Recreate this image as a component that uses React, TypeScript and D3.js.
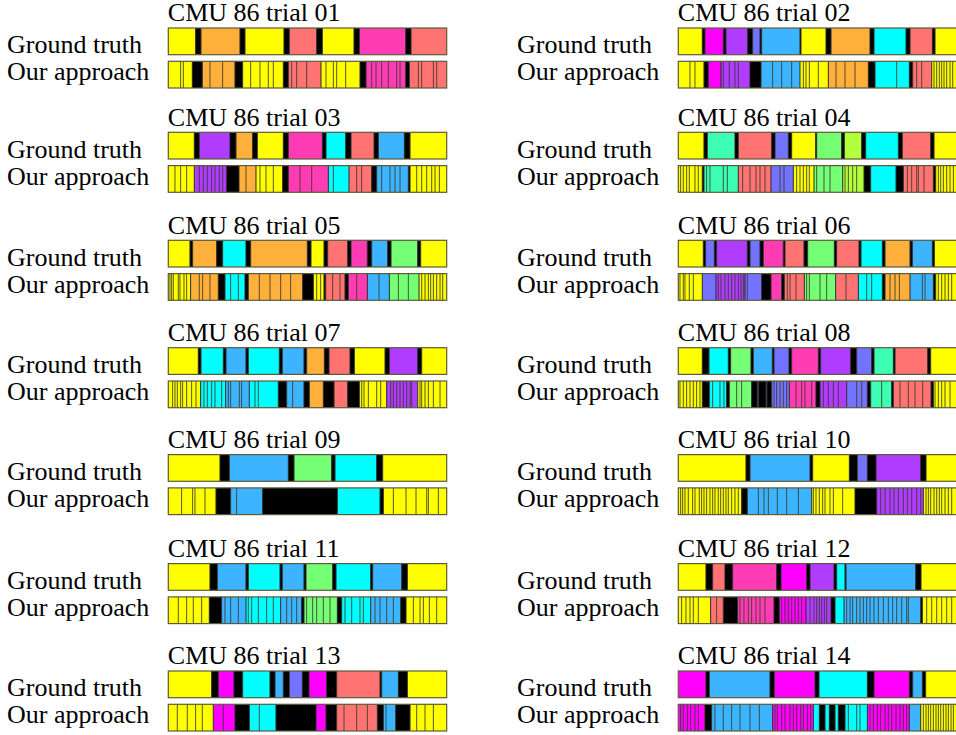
import React from "react";
import * as d3 from "d3";

// segment = [label code, end frame, internal cut frames]
type Seg = [string, number, number[]?];

const FRAME_START = 25;
const FRAME_END = 860;

const labelColors: Record<string, string> = {
  Y: "#ffff00",
  O: "#ffb03b",
  S: "#ff7373",
  P: "#ff3cb4",
  M: "#ff00ff",
  V: "#b03cff",
  B: "#7373ff",
  L: "#3cb4ff",
  C: "#00ffff",
  G: "#75ff75",
  T: "#3cffb4",
  E: "#b4ff3c",
  K: "#000000",
};

const trialNames = [
  "CMU 86 trial 01", "CMU 86 trial 02", "CMU 86 trial 03", "CMU 86 trial 04",
  "CMU 86 trial 05", "CMU 86 trial 06", "CMU 86 trial 07", "CMU 86 trial 08",
  "CMU 86 trial 09", "CMU 86 trial 10", "CMU 86 trial 11", "CMU 86 trial 12",
  "CMU 86 trial 13", "CMU 86 trial 14",
];

const groundTruth: Seg[][] = [
  // 01
  [["Y",107],["K",123],["O",240],["K",255],["Y",372],["K",388],["S",470],["K",487],["Y",582],["K",598],["P",737],["K",753],["S",860]],
  // 02
  [["Y",97],["K",105],["M",160],["K",168],["V",233],["K",248],["B",270],["K",275],["L",390],["K",393],["Y",468],["K",483],["O",600],["K",612],["C",708],["K",720],["S",787],["K",795],["Y",860]],
  // 03
  [["Y",103],["K",118],["V",210],["K",228],["O",278],["K",292],["Y",370],["K",385],["P",487],["K",498],["C",557],["K",573],["S",642],["K",655],["L",733],["K",750],["Y",860]],
  // 04
  [["Y",102],["K",112],["T",195],["K",205],["S",305],["K",315],["B",355],["K",365],["Y",437],["K",440],["G",515],["K",523],["E",575],["K",587],["C",685],["K",697],["S",782],["K",792],["Y",860]],
  // 05
  [["Y",90],["K",98],["O",170],["K",188],["C",258],["K",272],["O",442],["K",453],["Y",492],["K",503],["S",563],["K",573],["P",622],["K",635],["L",683],["K",693],["G",773],["K",782],["Y",860]],
  // 06
  [["Y",100],["K",107],["B",133],["K",140],["V",232],["K",240],["B",270],["K",280],["P",340],["K",345],["S",402],["K",413],["G",493],["K",500],["S",567],["K",573],["C",637],["K",645],["O",720],["K",727],["L",787],["K",793],["Y",860]],
  // 07
  [["Y",115],["K",123],["C",190],["K",198],["L",258],["K",265],["C",358],["K",367],["L",432],["K",440],["O",493],["K",507],["S",570],["K",583],["Y",675],["K",688],["V",773],["K",785],["Y",860]],
  // 08
  [["Y",97],["K",117],["C",175],["K",182],["G",243],["K",250],["L",307],["K",312],["B",357],["K",365],["P",445],["K",452],["V",542],["K",560],["B",605],["K",612],["T",670],["K",675],["S",773],["K",782],["Y",860]],
  // 09
  [["Y",180],["K",208],["L",385],["K",402],["G",515],["K",525],["C",650],["K",668],["Y",860]],
  // 10
  [["Y",228],["K",240],["L",420],["K",428],["Y",538],["K",562],["B",592],["K",618],["V",752],["K",768],["Y",860]],
  // 11
  [["Y",150],["K",172],["L",258],["K",265],["C",360],["K",367],["L",432],["K",438],["G",518],["K",528],["C",632],["K",638],["L",725],["K",742],["Y",860]],
  // 12
  [["Y",108],["K",128],["S",165],["K",188],["P",320],["K",333],["M",410],["K",420],["V",492],["K",500],["C",525],["K",528],["L",737],["K",753],["Y",860]],
  // 13
  [["Y",155],["K",175],["M",222],["K",248],["C",330],["K",345],["L",370],["K",388],["B",427],["K",447],["M",500],["K",530],["S",660],["K",665],["L",715],["K",742],["Y",860]],
  // 14
  [["M",108],["K",118],["L",300],["K",313],["M",435],["K",447],["C",592],["K",612],["M",718],["K",728],["L",757],["K",767],["Y",860]],
];

const ourApproach: Seg[][] = [
  // 01
  [["Y",97,[62,70]],["K",127],["O",225,[150,188]],["K",248],["Y",370,[272,300,325,340]],["K",385],["S",483,[395,410,440]],["Y",600,[498,520,530,557]],["K",618],["P",737,[635,648,665,685,710,720]],["K",748],["S",860,[775,785,820,830]]],
  // 02
  [["Y",102,[60,75]],["K",115],["M",153],["V",240,[160,178,195,205]],["K",273],["L",390,[308,335,365]],["Y",475,[400,408,418,445]],["O",595,[498,525,555]],["K",615],["C",718,[680]],["K",728],["S",785,[740,755]],["Y",860,[792,800,808,815,822,830,840,848]]],
  // 03
  [["Y",103,[45,62,80]],["V",200,[118,130,142,155,165,178,188]],["K",237],["O",288,[258]],["Y",368,[300,318,340]],["K",385],["P",505,[420,455]],["C",567,[520]],["S",635,[590,605]],["K",650],["L",745,[665,690,705,720]],["K",750],["Y",860,[770,785,800,815,825,838]]],
  // 04
  [["Y",97,[32,40,50,58,75,85]],["K",102],["T",205,[110,120,160,172]],["S",303,[218,240,258,270,285]],["B",370,[330,342]],["Y",432,[380,390,400,410,418]],["G",518,[440,462,480]],["E",582,[525,535,548,560]],["K",602],["C",678],["K",700],["S",790,[712,725,740,745,762]],["K",797],["Y",860,[805,812,820,830,840,850]]],
  // 05
  [["Y",92,[30,35,40,55,60,72,80]],["O",175,[118,128,150]],["K",195],["C",255,[212,235]],["K",265],["O",428,[298,330,362,392]],["K",460],["Y",492,[470,482]],["K",497],["S",555,[518,540]],["K",565],["P",622,[590]],["L",688,[657]],["G",777,[715,745]],["Y",860,[785,795,805,812,820,830,840,848]]],
  // 06
  [["Y",97,[30,40,45,58,70]],["B",138],["V",225,[145,153,165,175,185,195,205,213,220]],["B",275,[232]],["K",303],["P",335],["K",343],["S",403,[352,360,378]],["G",497,[410,418,450,470]],["S",565,[528]],["C",637,[590,605]],["K",645],["O",720,[660,675,688]],["L",790,[757,765]],["K",797],["Y",860,[805,815,825,835,845]]],
  // 07
  [["Y",122,[38,45,52,62,68,80,95,108]],["C",197,[132,142,155,165,185]],["L",268,[205,212,238,245]],["C",355,[285,295]],["K",380],["L",432,[398]],["K",448],["O",490],["K",522],["S",563],["K",598],["Y",680,[605,612,625,650,662]],["V",773,[692,700,710,720,730,740,750,755]],["Y",860,[780,785,795,805,820,840]]],
  // 08
  [["Y",97,[30,40,50,60,70,80,90]],["K",118],["C",170,[128,150,162]],["K",178],["G",245,[200,215]],["K",262],["B",266],["K",288],["B",291],["K",305],["B",358,[312,320,330,340,350]],["P",438,[378,395,405,425]],["K",450],["V",530,[460,475,490,505]],["B",592,[560,575]],["K",602],["T",665,[635]],["K",670],["S",783,[690,715,735,758]],["K",790],["Y",860,[795,805,815,825,840]]],
  // 09
  [["Y",168,[65,98,105,135]],["K",212],["L",308,[230]],["K",532],["C",660],["K",670],["Y",860,[700,738,768,800,805,835]]],
  // 10
  [["Y",215,[32,38,45,55,68,75,88,95,102,110,120,128,135,145,152,160,168,175,185,195,205]],["K",232],["L",425,[265,282,295,322,350,385]],["Y",555,[430,438,448,458,465,480,490,518]],["K",620],["V",760,[632,645,660,672,685,700,712,725,740,752]],["Y",860,[768,775,782,792,800,808,815,825,835,845]]],
  // 11
  [["Y",148,[55,80,100,125]],["K",185],["L",258,[195,212,235]],["C",362,[265,275,295,320,340]],["L",425,[380,395,410]],["K",432],["G",532,[440,458,470,490,510]],["K",545],["C",632,[555,575,600,610]],["L",722,[645,660,680,700]],["K",738],["Y",860,[760,780,790,808,830]]],
  // 12
  [["Y",122,[35,48,60,70,85]],["S",160,[140]],["K",203],["P",312,[210,222,235,245,258,270,285]],["K",328],["M",408,[335,345,355,365,375,385,395]],["V",483,[420,432,440,448,455,463,470]],["K",495],["C",522],["L",752,[530,540,548,560,570,580,590,600,612,625,640,655,668,680,695,710,715]],["K",757],["Y",860,[770,785,800,815,830,845]]],
  // 13
  [["Y",160,[52,82,107,127]],["M",225,[190]],["K",268],["C",348,[298]],["K",468],["M",498],["K",530],["S",652,[552,590,622]],["K",670],["L",707,[678]],["K",750],["Y",860,[770,795,820]]],
  // 14
  [["M",105,[32,40,52,62,75,85]],["K",125],["L",308,[135,160,185,210,240,268]],["M",430,[315,322,335,345,360,370,380,392,400,412,422]],["C",448],["K",465],["C",478],["K",495],["C",505],["K",525],["C",592,[535,560,570]],["M",718,[600,610,622,632,645,655,665,678,690,700,710]],["L",752],["Y",860,[760,768,775,782,790,798,805,812,820,828,835,843,850]]],
];

const W = 956;
const H = 735;
const rowTops = [28, 132.3, 240.3, 347.7, 454.6, 563.6, 671];
const colLabelX = [7, 517];
const colBarX = [168.3, 678.3];
const barW = 278.4;
const barH = 26.7;
const oaOffset = 33.3;
const font = "'Liberation Serif', 'Times New Roman', serif";

const Bar = ({ segs, x0, y }: { segs: Seg[]; x0: number; y: number }) => {
  const x = d3.scaleLinear().domain([FRAME_START, FRAME_END]).range([x0, x0 + barW]);
  let start = FRAME_START;
  const parts = segs.map((s, i) => {
    const [code, end, cuts] = s;
    const x1 = x(start);
    const x2 = x(end);
    start = end;
    return (
      <g key={i}>
        <rect x={x1} y={y} width={x2 - x1} height={barH} fill={labelColors[code]} />
        {(cuts || []).map((c, j) => (
          <line key={j} x1={x(c)} x2={x(c)} y1={y} y2={y + barH} stroke="#3a3a2a" strokeWidth={1} strokeOpacity={0.85} />
        ))}
        {i > 0 && (
          <line x1={x1} x2={x1} y1={y} y2={y + barH} stroke="#2a2a2a" strokeWidth={1} />
        )}
      </g>
    );
  });
  return (
    <g>
      {parts}
      <rect x={x0} y={y} width={barW} height={barH} fill="none" stroke="#5a5a3a" strokeWidth={1.2} />
    </g>
  );
};

export default function App() {
  return (
    <svg
      width={W}
      height={H}
      style={{ position: "absolute", left: 0, top: 0, background: "#fff" }}
      fontFamily={font}
    >
      {trialNames.map((name, t) => {
        const col = t % 2;
        const row = Math.floor(t / 2);
        const top = rowTops[row];
        return (
          <g key={name}>
            <text x={colBarX[col] - 0.5} y={top - 6.6} fontSize={26}>{name}</text>
            <text x={colLabelX[col]} y={top + 25.3} fontSize={26}>Ground truth</text>
            <text x={colLabelX[col]} y={top + 52.3} fontSize={26}>Our approach</text>
            <Bar segs={groundTruth[t]} x0={colBarX[col]} y={top} />
            <Bar segs={ourApproach[t]} x0={colBarX[col]} y={top + oaOffset} />
          </g>
        );
      })}
    </svg>
  );
}
